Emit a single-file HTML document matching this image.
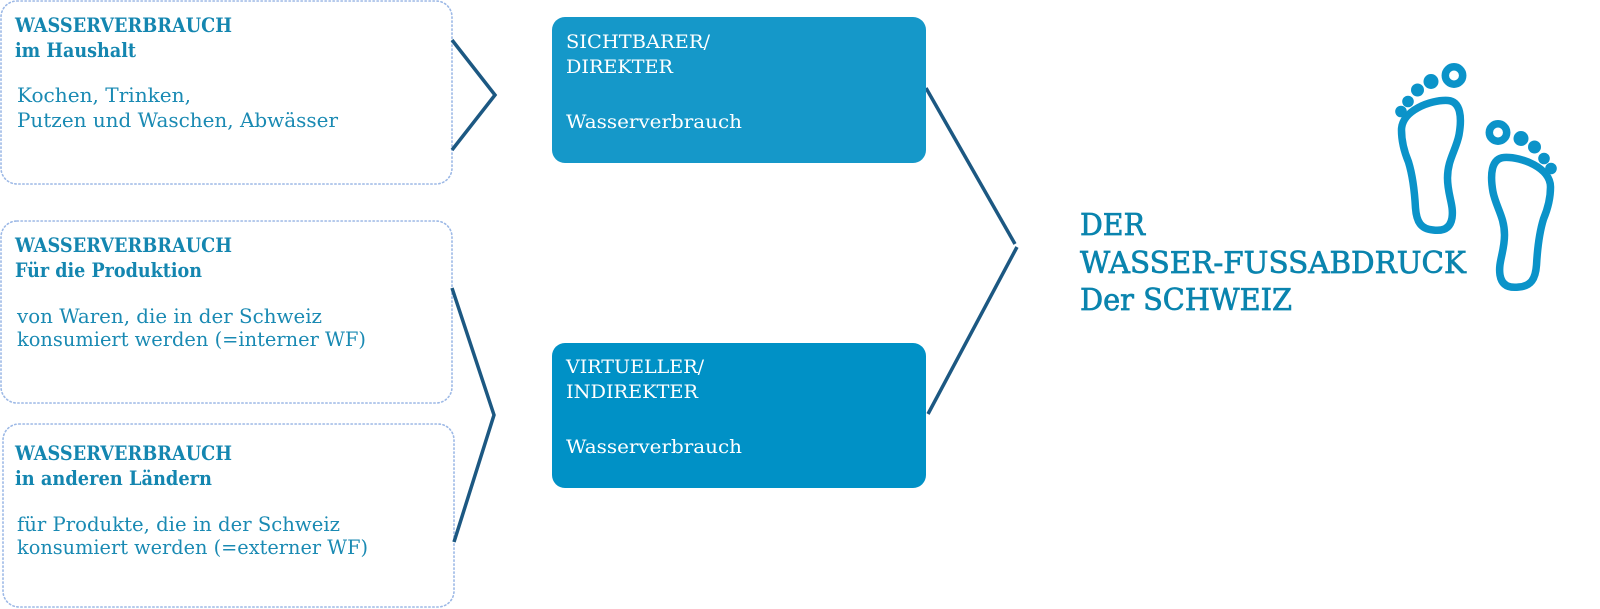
<!DOCTYPE html>
<html>
<head>
<meta charset="utf-8">
<style>
  html, body { margin: 0; padding: 0; background: #ffffff; }
  body { width: 1600px; height: 609px; overflow: hidden; }
  svg { display: block; }
  .hd { font-family: "DejaVu Serif", "Liberation Serif", serif; font-weight: bold; font-size: 20px; fill: #1486b0; }
  .bd { font-family: "DejaVu Serif", "Liberation Serif", serif; font-weight: normal; font-size: 19.5px; fill: #1a8ab3; }
  .wt { font-family: "DejaVu Serif", "Liberation Serif", serif; font-weight: normal; font-size: 18.5px; fill: #ffffff; }
  .tt { font-family: "DejaVu Serif", "Liberation Serif", serif; font-weight: normal; font-size: 30px; fill: #0a84ae; stroke: #0a84ae; stroke-width: 0.7px; }
</style>
</head>
<body>
<svg width="1600" height="609" viewBox="0 0 1600 609" xmlns="http://www.w3.org/2000/svg">
  <rect x="0" y="0" width="1600" height="609" fill="#ffffff"/>

  <!-- dotted left boxes -->
  <g fill="none" stroke="#9db9e6" stroke-width="1.6" stroke-dasharray="1.4 2.6" stroke-linecap="round">
    <rect x="1" y="1" width="451" height="183" rx="16" ry="16"/>
    <rect x="1" y="221" width="451" height="182" rx="16" ry="16"/>
    <rect x="3" y="424" width="451" height="183" rx="16" ry="16"/>
  </g>

  <!-- chevrons / connectors -->
  <g fill="none" stroke="#1c5882" stroke-width="3.5" stroke-linejoin="miter">
    <polyline points="452,40 495,95 452,150"/>
    <polyline points="452,288 494,415 454,542"/>
    <line x1="926" y1="88" x2="1015" y2="244"/>
    <line x1="1017" y1="247" x2="928" y2="414"/>
  </g>

  <!-- blue boxes -->
  <rect x="552" y="17" width="374" height="146" rx="13" ry="13" fill="#1598c9"/>
  <rect x="552" y="343" width="374" height="145" rx="13" ry="13" fill="#0091c6"/>

  <!-- left box 1 text -->
  <text class="hd" x="15" y="32" textLength="217" lengthAdjust="spacingAndGlyphs">WASSERVERBRAUCH</text>
  <text class="hd" x="15" y="57" textLength="121" lengthAdjust="spacingAndGlyphs">im Haushalt</text>
  <text class="bd" x="17" y="102" textLength="174" lengthAdjust="spacingAndGlyphs">Kochen, Trinken,</text>
  <text class="bd" x="17" y="127" textLength="321" lengthAdjust="spacingAndGlyphs">Putzen und Waschen, Abwässer</text>

  <!-- left box 2 text -->
  <text class="hd" x="15" y="252" textLength="217" lengthAdjust="spacingAndGlyphs">WASSERVERBRAUCH</text>
  <text class="hd" x="15" y="277" textLength="187" lengthAdjust="spacingAndGlyphs">Für die Produktion</text>
  <text class="bd" x="17" y="323" textLength="305" lengthAdjust="spacingAndGlyphs">von Waren, die in der Schweiz</text>
  <text class="bd" x="17" y="346" textLength="349" lengthAdjust="spacingAndGlyphs">konsumiert werden (=interner WF)</text>

  <!-- left box 3 text -->
  <text class="hd" x="15" y="460" textLength="217" lengthAdjust="spacingAndGlyphs">WASSERVERBRAUCH</text>
  <text class="hd" x="15" y="485" textLength="197" lengthAdjust="spacingAndGlyphs">in anderen Ländern</text>
  <text class="bd" x="17" y="531" textLength="323" lengthAdjust="spacingAndGlyphs">für Produkte, die in der Schweiz</text>
  <text class="bd" x="17" y="554" textLength="351" lengthAdjust="spacingAndGlyphs">konsumiert werden (=externer WF)</text>

  <!-- blue box texts -->
  <text class="wt" x="566" y="48" textLength="144" lengthAdjust="spacingAndGlyphs">SICHTBARER/</text>
  <text class="wt" x="566" y="73" textLength="107" lengthAdjust="spacingAndGlyphs">DIREKTER</text>
  <text class="wt" x="566" y="128" textLength="176" lengthAdjust="spacingAndGlyphs">Wasserverbrauch</text>

  <text class="wt" x="566" y="373" textLength="138" lengthAdjust="spacingAndGlyphs">VIRTUELLER/</text>
  <text class="wt" x="566" y="398" textLength="132" lengthAdjust="spacingAndGlyphs">INDIREKTER</text>
  <text class="wt" x="566" y="453" textLength="176" lengthAdjust="spacingAndGlyphs">Wasserverbrauch</text>

  <!-- title -->
  <text class="tt" x="1080" y="235" textLength="65" lengthAdjust="spacingAndGlyphs">DER</text>
  <text class="tt" x="1080" y="273" textLength="386" lengthAdjust="spacingAndGlyphs">WASSER-FUSSABDRUCK</text>
  <text class="tt" x="1080" y="310" textLength="212" lengthAdjust="spacingAndGlyphs">Der SCHWEIZ</text>

  <!-- footprints -->
  <defs>
    <g id="foot">
      <path d="M1401.5,130 C1401.5,111 1430,99.5 1448,100.5 C1461,101.5 1462,118 1459,135 C1456,150 1447.5,160 1447.5,178 C1447.5,195 1454,205 1452,218 C1450,230 1441,231 1433,230 C1421,229 1416.5,222 1415.5,208 C1414.5,190 1412.5,175 1408.5,162 C1403.5,150 1401.5,140 1401.5,130 Z"
            fill="none" stroke="#0b93c9" stroke-width="7.5" stroke-linejoin="round"/>
      <circle cx="1454" cy="75.5" r="8.7" fill="none" stroke="#0b93c9" stroke-width="7.5"/>
      <circle cx="1431" cy="81.5" r="7.5" fill="#0b93c9"/>
      <circle cx="1417.5" cy="90" r="6.5" fill="#0b93c9"/>
      <circle cx="1408" cy="101.5" r="5.8" fill="#0b93c9"/>
      <circle cx="1401" cy="111.5" r="5.8" fill="#0b93c9"/>
    </g>
  </defs>
  <use href="#foot"/>
  <use href="#foot" transform="translate(2952,57) scale(-1,1)"/>
</svg>
</body>
</html>
